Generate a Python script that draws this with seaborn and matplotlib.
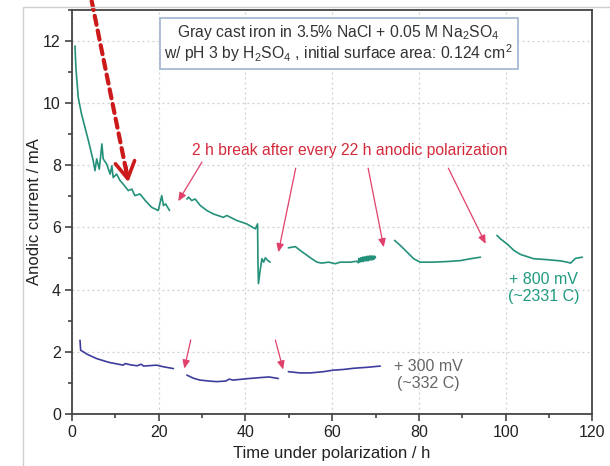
import matplotlib
matplotlib.use("Agg")
import matplotlib.pyplot as plt
from matplotlib.patches import Rectangle
from matplotlib.ticker import MultipleLocator
import pandas as pd
import seaborn as sns

# +800 mV run, five 22 h polarization windows
g1_t = [0.7, 0.9, 1.45, 2.2, 3.0, 3.8, 4.9, 5.3, 5.7, 6.3, 6.9, 7.2, 8.0, 8.8, 9.2, 9.5, 10.3,
        11.1, 11.8, 13.0, 13.8, 14.5, 15.7, 16.9, 18.4, 19.9, 20.7, 21.1, 21.6, 22.5]
g1_i = [11.83, 11.13, 10.17, 9.64, 9.21, 8.78, 8.14, 7.82, 8.2, 7.87, 8.68, 8.2, 8.03, 7.71, 7.98,
        7.6, 7.71, 7.5, 7.39, 7.18, 7.23, 7.02, 7.07, 6.86, 6.64, 6.54, 7.02, 6.7, 6.75, 6.54]
g2_t = [26.5, 26.9, 27.6, 28.4, 29.6, 31.1, 32.6, 34.9, 35.7, 38.0, 40.3, 42.3, 42.8, 42.9, 43.0,
        43.4, 43.8, 44.2, 44.6, 45.1, 45.7]
g2_i = [6.91, 6.97, 6.86, 6.91, 6.70, 6.54, 6.43, 6.32, 6.38, 6.22, 6.11, 5.95, 6.11, 4.83, 4.19,
        4.62, 4.99, 4.88, 5.02, 4.94, 4.88]
g3_t = [49.9, 51.5, 52.6, 54.2, 55.3, 56.5, 57.6, 59.2, 60.7, 61.9, 64.2, 65.7,
        66.0, 66.2, 66.4, 66.6, 66.8, 67.0, 67.2, 67.4, 67.6, 67.8, 68.0, 68.2, 68.4, 68.6,
        68.8, 69.0, 69.2, 69.4, 69.6, 69.8, 70.0]
g3_i = [5.34, 5.38, 5.26, 5.10, 4.99, 4.88, 4.85, 4.88, 4.83, 4.88, 4.88, 4.91,
        4.86, 5.0, 4.88, 5.02, 4.9, 5.04, 4.9, 5.05, 4.92, 5.06, 4.92, 5.07, 4.93, 5.08,
        4.95, 5.08, 4.95, 5.08, 4.97, 5.07, 5.02]
g4_t = [74.4, 75.7, 77.3, 78.8, 80.3, 83.4, 86.5, 89.6, 91.9, 94.2]
g4_i = [5.58, 5.42, 5.20, 4.99, 4.88, 4.88, 4.90, 4.93, 4.99, 5.04]
g5_t = [98.0, 98.8, 100.3, 101.9, 103.4, 106.5, 109.6, 112.7, 114.2, 115.0, 116.1, 117.7]
g5_i = [5.74, 5.63, 5.47, 5.26, 5.13, 4.99, 4.96, 4.92, 4.88, 4.85, 5.0, 5.04]

# +300 mV run, three windows
b1_t = [1.85, 2.0, 3.5, 5.7, 8.5, 11.8, 12.3, 13.5, 15.0, 16.0, 16.5, 17.5, 19.5, 21.0, 23.4]
b1_i = [2.37, 2.05, 1.92, 1.78, 1.66, 1.57, 1.62, 1.58, 1.55, 1.6, 1.54, 1.55, 1.57, 1.52, 1.46]
b2_t = [26.5, 28.0, 29.5, 31.5, 33.4, 35.5, 36.2, 37.2, 40.0, 43.4, 45.5, 47.6]
b2_i = [1.25, 1.15, 1.09, 1.06, 1.04, 1.06, 1.12, 1.09, 1.13, 1.17, 1.19, 1.14]
b3_t = [49.9, 52.6, 55.0, 58.0, 60.3, 62.5, 65.0, 68.0, 71.1]
b3_i = [1.36, 1.32, 1.32, 1.36, 1.41, 1.43, 1.47, 1.50, 1.54]

segments = [("800", g1_t, g1_i), ("800", g2_t, g2_i), ("800", g3_t, g3_i), ("800", g4_t, g4_i),
            ("800", g5_t, g5_i), ("300", b1_t, b1_i), ("300", b2_t, b2_i), ("300", b3_t, b3_i)]
rows = []
for k, (s, ts, vals) in enumerate(segments):
    for t, v in zip(ts, vals):
        rows.append({"series": s, "segment": k, "t": t, "i": v})
df = pd.DataFrame(rows)

sns.set_style("white")
plt.rcParams["font.family"] = ["Liberation Sans", "DejaVu Sans"]
plt.rcParams["mathtext.fontset"] = "custom"
plt.rcParams["mathtext.rm"] = "Liberation Sans"
plt.rcParams["mathtext.it"] = "Liberation Sans:italic"

fig = plt.figure(figsize=(6.1, 4.66), dpi=100)
ax = fig.add_axes([0.118, 0.1116, 0.853, 0.868])

sns.lineplot(data=df, x="t", y="i", hue="series", units="segment", estimator=None,
             sort=False, palette={"800": "#23917a", "300": "#3d3d9e"}, legend=False,
             lw=1.2, ax=ax)

ax.set_xlim(0, 120)
ax.set_ylim(0, 13)
ax.xaxis.set_major_locator(MultipleLocator(20))
ax.xaxis.set_minor_locator(MultipleLocator(10))
ax.yaxis.set_major_locator(MultipleLocator(2))
ax.yaxis.set_minor_locator(MultipleLocator(1))
ax.tick_params(which="major", direction="out", length=5, width=1.1, color="#333",
               labelsize=11.5, labelcolor="#222", pad=3)
ax.tick_params(which="minor", direction="out", length=3, width=1.1, color="#333")
ax.tick_params(bottom=True, left=True, which="both")
ax.grid(True, which="major", ls=(0, (1.5, 2.5)), color="#cfcfcf", lw=0.9)
for sp in ax.spines.values():
    sp.set_color("#444")
    sp.set_linewidth(1.3)

ax.set_xlabel("Time under polarization / h", fontsize=12, color="#222", labelpad=4)
ax.set_ylabel("Anodic current / mA", fontsize=12, color="#222", labelpad=1)

ax.text(61.5, 11.9, "Gray cast iron in 3.5% NaCl + 0.05 M Na$_2$SO$_4$\n"
        "w/ pH 3 by H$_2$SO$_4$ , initial surface area: 0.124 cm$^2$",
        ha="center", va="center", fontsize=11.3, color="#333", linespacing=1.05,
        bbox=dict(boxstyle="square,pad=0.3", fc="white", ec="#9fb3cf", lw=1.2))

ax.text(64.0, 8.46, "2 h break after every 22 h anodic polarization", ha="center",
        va="center", fontsize=11.3, color="#d42a3c")

pink = "#e0406a"
arrows = [((30.0, 8.1), (24.5, 6.84)), ((51.6, 7.9), (47.6, 5.2)), ((68.3, 7.9), (71.9, 5.36)),
          ((86.8, 7.9), (95.4, 5.47)), ((27.4, 2.38), (25.9, 1.46)), ((46.9, 2.38), (48.7, 1.43))]
for start, end in arrows:
    ax.annotate("", xy=end, xytext=start,
                arrowprops=dict(arrowstyle="-|>,head_length=0.5,head_width=0.22",
                                color=pink, lw=0.9, shrinkA=0, shrinkB=0))

# big dashed red arrow
red = "#cc1a1a"
ax.annotate("", xy=(12.6, 7.75), xytext=(4.55, 13.27), annotation_clip=False,
            arrowprops=dict(arrowstyle="-", ls=(0, (2.2, 1.4)), color=red, lw=3,
                            shrinkA=0, shrinkB=0))
ax.annotate("", xy=(13.0, 7.45), xytext=(12.4, 7.95), annotation_clip=False,
            arrowprops=dict(arrowstyle="->,head_length=0.6,head_width=0.35", color=red,
                            lw=2.6, mutation_scale=20, shrinkA=0, shrinkB=0))

ax.text(108.7, 4.05, "+ 800 mV\n(~2331 C)", ha="center", va="center", fontsize=11.5,
        color="#1f9a80", linespacing=1.15)
ax.text(82.1, 1.25, "+ 300 mV\n(~332 C)", ha="center", va="center", fontsize=11.5,
        color="#666", linespacing=1.15)

fig.patches.append(Rectangle((23 / 610, -0.1), 1.2, (466 - 7) / 466 + 0.1,
                             transform=fig.transFigure, fill=False, ec="#cfcfcf", lw=1))

fig.savefig("out.png", dpi=100)
